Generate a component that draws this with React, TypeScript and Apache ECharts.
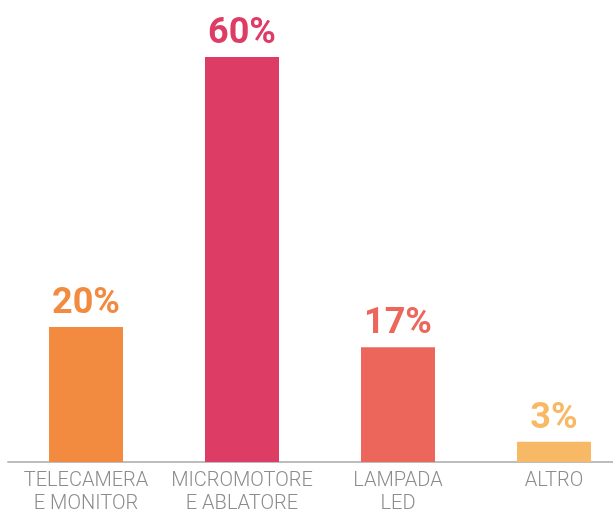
import React, { useEffect, useRef } from "react";
import * as echarts from "echarts";

const categories = ["TELECAMERA\nE MONITOR", "MICROMOTORE\nE ABLATORE", "LAMPADA\nLED", "ALTRO"];
const values = [20, 60, 17, 3];
const colors = ["#F28A3F", "#DD3C64", "#EC665C", "#F8B967"];

export default function App() {
  const ref = useRef<HTMLDivElement>(null);
  useEffect(() => {
    const chart = echarts.init(ref.current!, undefined, { renderer: "svg" });
    chart.setOption({
      animation: false,
      grid: {
        left: 8,
        top: 57,
        width: 624,
        bottom: 52,
        containLabel: false,
        outerBoundsMode: "none",
      },
      xAxis: {
        type: "category",
        data: categories,
        axisLine: { show: true, lineStyle: { color: "#BDBDBD", width: 2 } },
        axisTick: { show: false },
        axisLabel: {
          interval: 0,
          color: "#8C8C8C",
          fontFamily: "Roboto",
          fontWeight: 300,
          fontSize: 20,
          lineHeight: 23,
          margin: 5,
        },
      },
      yAxis: { type: "value", min: 0, max: 60, show: false, splitLine: { show: false } },
      series: [
        {
          type: "bar",
          barWidth: 74,
          data: values.map((v, i) => ({
            value: v,
            itemStyle: { color: colors[i] },
            label: { color: colors[i] },
          })),
          label: {
            show: true,
            position: "top",
            distance: 8,
            formatter: "{c}%",
            fontFamily: "Roboto",
            fontWeight: "bold",
            fontSize: 36,
          },
        },
      ],
    });
    return () => chart.dispose();
  }, []);
  return (
    <div
      ref={ref}
      style={{ position: "fixed", left: 0, top: 0, width: 613, height: 514 }}
    />
  );
}
